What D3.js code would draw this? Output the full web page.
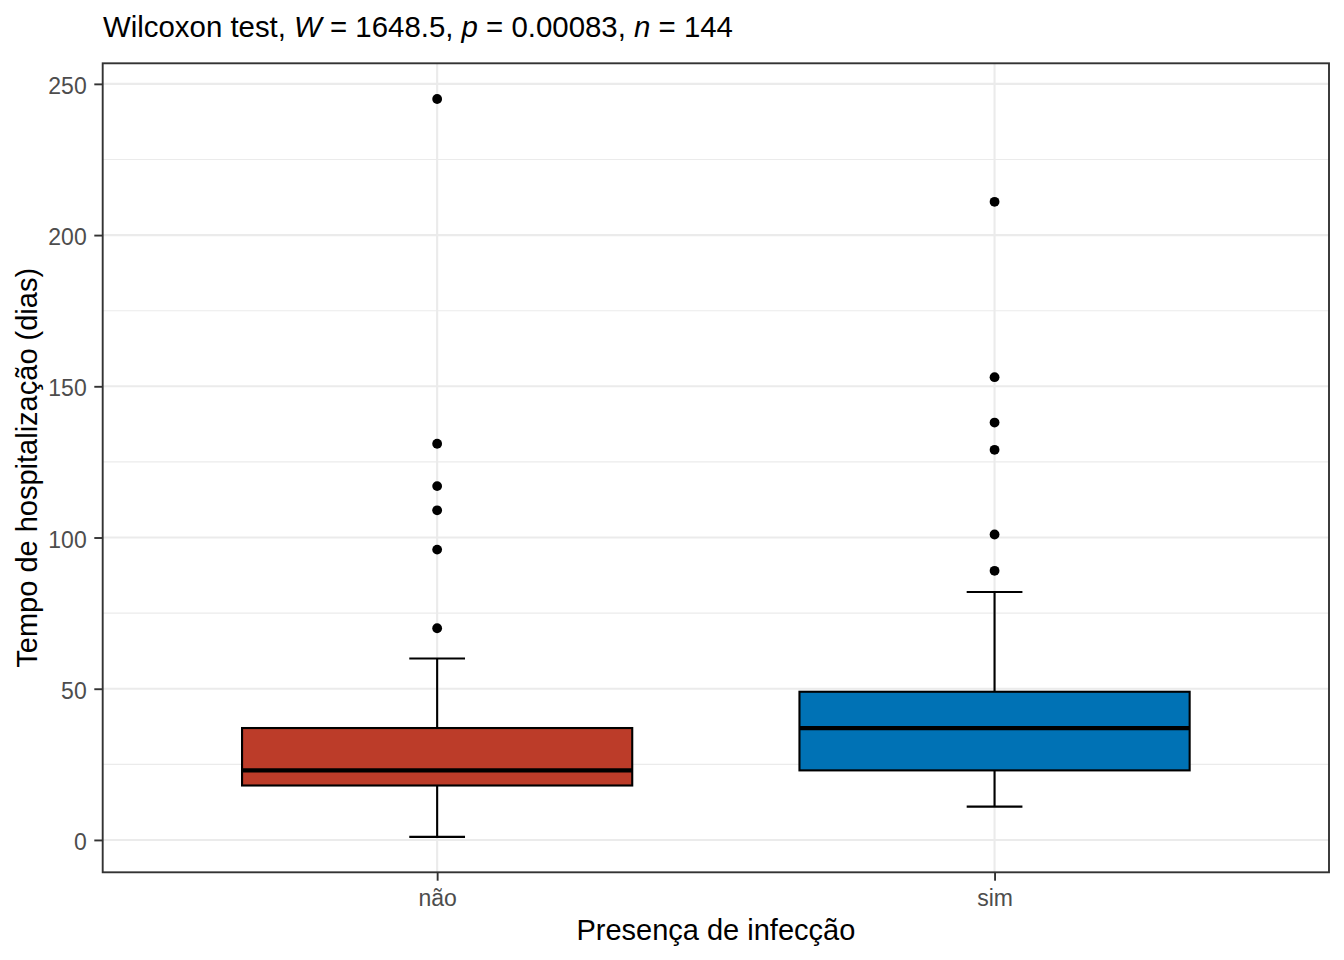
<!DOCTYPE html>
<html>
<head>
<meta charset="utf-8">
<script src="https://cdn.jsdelivr.net/npm/d3@7"></script>
<style>
  html, body { margin: 0; padding: 0; background: #fff; }
  svg { display: block; font-family: "Liberation Sans", Arial, sans-serif; }
</style>
</head>
<body>
<svg id="chart" width="1344" height="960"></svg>
<script>
// data
const categories = ['não', 'sim'];
const colors = ['#BC3C29', '#0072B5'];
const lowerWhisker = [1, 11];
const q1 = [18, 23];
const median = [23, 37];
const q3 = [37, 49];
const upperWhisker = [60, 82];
const outliersNao = [70, 96, 109, 117, 131, 245];
const outliersSim = [89, 101, 129, 138, 153, 211];
const yTicks = [0, 50, 100, 150, 200, 250];
const yMinor = [25, 75, 125, 175, 225];
const yDomain = [-10.7, 256.8];

const svg = d3.select('#chart');
const panel = { left: 102.7, right: 1329, top: 63.3, bottom: 872.3 };

const x = d3.scalePoint().domain(categories).range([panel.left, panel.right]).padding(0.6);
const y = d3.scaleLinear().domain(yDomain).range([panel.bottom, panel.top]);
const boxW = x.step() * 0.7;
const capW = x.step() * 0.1;

// grid
const grid = svg.append('g');
grid.selectAll('.minor').data(yMinor).enter().append('line')
  .attr('x1', panel.left).attr('x2', panel.right)
  .attr('y1', d => y(d)).attr('y2', d => y(d))
  .attr('stroke', '#EBEBEB').attr('stroke-width', 1.1);
grid.selectAll('.major').data(yTicks).enter().append('line')
  .attr('x1', panel.left).attr('x2', panel.right)
  .attr('y1', d => y(d)).attr('y2', d => y(d))
  .attr('stroke', '#EBEBEB').attr('stroke-width', 2.1);
grid.selectAll('.vmajor').data(categories).enter().append('line')
  .attr('x1', d => x(d)).attr('x2', d => x(d))
  .attr('y1', panel.top).attr('y2', panel.bottom)
  .attr('stroke', '#EBEBEB').attr('stroke-width', 2.1);

// boxes
const rows = categories.map((c, i) => ({
  cat: c, fill: colors[i], lo: lowerWhisker[i], q1: q1[i], med: median[i], q3: q3[i], hi: upperWhisker[i]
}));
const boxes = svg.append('g');
const g = boxes.selectAll('g').data(rows).enter().append('g');
const lw = 2.1;

g.append('line') // whisker up
  .attr('x1', d => x(d.cat)).attr('x2', d => x(d.cat))
  .attr('y1', d => y(d.q3)).attr('y2', d => y(d.hi))
  .attr('stroke', '#000').attr('stroke-width', lw);
g.append('line') // whisker down
  .attr('x1', d => x(d.cat)).attr('x2', d => x(d.cat))
  .attr('y1', d => y(d.q1)).attr('y2', d => y(d.lo))
  .attr('stroke', '#000').attr('stroke-width', lw);
g.append('line')
  .attr('x1', d => x(d.cat) - capW / 2).attr('x2', d => x(d.cat) + capW / 2)
  .attr('y1', d => y(d.hi)).attr('y2', d => y(d.hi))
  .attr('stroke', '#000').attr('stroke-width', lw);
g.append('line')
  .attr('x1', d => x(d.cat) - capW / 2).attr('x2', d => x(d.cat) + capW / 2)
  .attr('y1', d => y(d.lo)).attr('y2', d => y(d.lo))
  .attr('stroke', '#000').attr('stroke-width', lw);
g.append('rect')
  .attr('x', d => x(d.cat) - boxW / 2).attr('width', boxW)
  .attr('y', d => y(d.q3)).attr('height', d => y(d.q1) - y(d.q3))
  .attr('fill', d => d.fill).attr('stroke', '#000').attr('stroke-width', lw);
g.append('line')
  .attr('x1', d => x(d.cat) - boxW / 2).attr('x2', d => x(d.cat) + boxW / 2)
  .attr('y1', d => y(d.med)).attr('y2', d => y(d.med))
  .attr('stroke', '#000').attr('stroke-width', 4.3);

// outliers
const pts = [
  ...outliersNao.map(v => ({ cat: categories[0], v })),
  ...outliersSim.map(v => ({ cat: categories[1], v }))
];
svg.append('g').selectAll('circle').data(pts).enter().append('circle')
  .attr('cx', d => x(d.cat)).attr('cy', d => y(d.v))
  .attr('r', 4.9).attr('fill', '#000');

// panel border
svg.append('rect')
  .attr('x', panel.left).attr('y', panel.top)
  .attr('width', panel.right - panel.left).attr('height', panel.bottom - panel.top)
  .attr('fill', 'none').attr('stroke', '#333').attr('stroke-width', 1.9);

// y axis
const yAxis = svg.append('g')
  .attr('transform', `translate(${panel.left},0)`)
  .call(d3.axisLeft(y).tickValues(yTicks).tickSize(8.4).tickPadding(7.6));
yAxis.select('.domain').remove();
yAxis.selectAll('.tick line').attr('stroke', '#333').attr('stroke-width', 1.9);
yAxis.selectAll('.tick text')
  .attr('fill', '#4D4D4D').attr('font-size', '23px')
  .attr('font-family', '"Liberation Sans", Arial, sans-serif')
  .attr('dy', '0.42em');

// x axis
const xAxis = svg.append('g')
  .attr('transform', `translate(0,${panel.bottom})`)
  .call(d3.axisBottom(x).tickSize(8.4).tickPadding(9));
xAxis.select('.domain').remove();
xAxis.selectAll('.tick line').attr('stroke', '#333').attr('stroke-width', 1.9);
xAxis.selectAll('.tick text')
  .attr('fill', '#4D4D4D').attr('font-size', '23px')
  .attr('font-family', '"Liberation Sans", Arial, sans-serif')
  .attr('dy', '0.71em');

// titles
svg.append('text')
  .attr('x', (panel.left + panel.right) / 2).attr('y', 940)
  .attr('text-anchor', 'middle').attr('font-size', '29px').attr('fill', '#000')
  .text('Presença de infecção');

svg.append('text')
  .attr('transform', `translate(37,${(panel.top + panel.bottom) / 2}) rotate(-90)`)
  .attr('text-anchor', 'middle').attr('font-size', '29px').attr('fill', '#000')
  .text('Tempo de hospitalização (dias)');

const title = svg.append('text')
  .attr('x', 103).attr('y', 37).attr('font-size', '29.4px').attr('fill', '#000');
const parts = [
  ['Wilcoxon test, ', false], ['W', true], [' = 1648.5, ', false],
  ['p', true], [' = 0.00083, ', false], ['n', true], [' = 144', false]
];
parts.forEach(([t, it]) => {
  title.append('tspan').attr('font-style', it ? 'italic' : null).text(t);
});
</script>
</body>
</html>
